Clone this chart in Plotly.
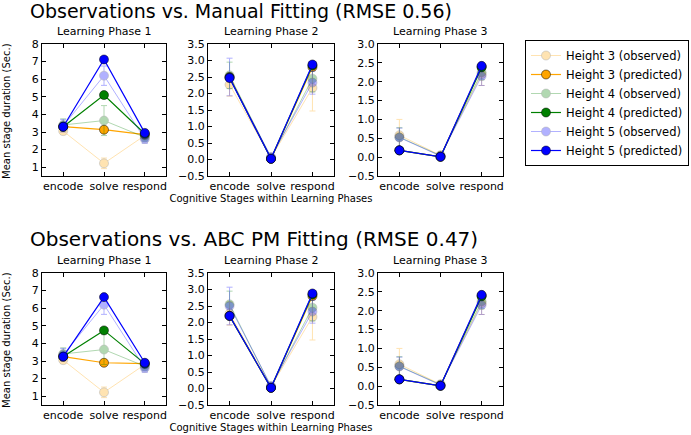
import plotly.graph_objects as go

stages = ["encode", "solve", "respond"]
phases = ["Learning Phase 1", "Learning Phase 2", "Learning Phase 3"]
heights = ["Height 3", "Height 4", "Height 5"]
colors = ["#FFA500", "#008000", "#0000FF"]

# observed means [height][phase][stage]
obs = [
    [[3.05, 1.22, 2.80], [2.27, 0.05, 2.17], [0.58, 0.05, 2.20]],
    [[3.40, 3.65, 2.70], [2.55, 0.05, 2.45], [0.53, 0.04, 2.25]],
    [[3.35, 6.20, 2.60], [2.50, 0.08, 2.33], [0.52, 0.03, 2.15]],
]
obs_err = [
    [[0.20, 0.30, 0.20], [0.35, 0.05, 0.70], [0.42, 0.05, 0.30]],
    [[0.35, 0.85, 0.25], [0.40, 0.05, 0.40], [0.25, 0.05, 0.20]],
    [[0.35, 0.55, 0.25], [0.57, 0.05, 0.35], [0.25, 0.05, 0.25]],
]
manual_pred = [
    [[3.30, 3.13, 2.85], [2.50, 0.02, 2.80], [0.18, 0.01, 2.40]],
    [[3.30, 5.10, 2.90], [2.48, 0.02, 2.85], [0.18, 0.01, 2.38]],
    [[3.30, 7.12, 2.95], [2.47, 0.02, 2.88], [0.18, 0.01, 2.42]],
]
abc_pred = [
    [[3.25, 2.90, 2.85], [2.20, 0.02, 2.80], [0.18, 0.01, 2.40]],
    [[3.25, 4.74, 2.85], [2.20, 0.02, 2.85], [0.18, 0.01, 2.38]],
    [[3.25, 6.63, 2.90], [2.20, 0.02, 2.88], [0.18, 0.01, 2.42]],
]
row_titles = ["Observations vs. Manual Fitting (RMSE 0.56)",
              "Observations vs. ABC PM Fitting (RMSE 0.47)"]
y_title = "Mean stage duration (Sec.)"
x_title = "Cognitive Stages within Learning Phases"
y_ranges = [[0.5, 8], [-0.5, 3.5], [-0.5, 3.0]]
y_dtick = [1, 0.5, 0.5]

W, H = 691, 435
FONT = "DejaVu Sans"
xpix = [(42, 166), (208, 334), (378, 503)]
ypix = [(44, 176), (273, 405)]


def px(x):
    return x / W


def py(y):
    return 1 - y / H


fig = go.Figure()
layout = {}

for r, preds in enumerate([manual_pred, abc_pred]):
    for p in range(3):
        idx = r * 3 + p + 1
        xa = "x" if idx == 1 else f"x{idx}"
        ya = "y" if idx == 1 else f"y{idx}"
        for h in range(3):
            fig.add_trace(go.Scatter(
                x=stages, y=obs[h][p], xaxis=xa, yaxis=ya,
                mode="lines+markers", opacity=0.3,
                line=dict(color=colors[h], width=1),
                marker=dict(color=colors[h], size=9, line=dict(color="black", width=0.5)),
                error_y=dict(type="data", array=obs_err[h][p], color=colors[h],
                             thickness=1, width=3),
                name=f"{heights[h]} (observed)", legendgroup=f"o{h}",
                showlegend=(idx == 1)))
            fig.add_trace(go.Scatter(
                x=stages, y=preds[h][p], xaxis=xa, yaxis=ya,
                mode="lines+markers",
                line=dict(color=colors[h], width=1.2),
                marker=dict(color=colors[h], size=9, line=dict(color="black", width=0.5)),
                name=f"{heights[h]} (predicted)", legendgroup=f"p{h}",
                showlegend=(idx == 1)))
        x0, x1 = xpix[p]
        y0, y1 = ypix[r]
        axcommon = dict(showline=True, linecolor="black", linewidth=1, mirror="ticks",
                        ticks="inside", ticklen=4, tickcolor="black", showgrid=False,
                        zeroline=False, automargin=False,
                        tickfont=dict(family=FONT, size=11, color="black"))
        layout["xaxis" if idx == 1 else f"xaxis{idx}"] = dict(
            domain=[px(x0), px(x1)], anchor=ya, type="category",
            categoryorder="array", categoryarray=stages, range=[-0.52, 2.52],
            title=dict(text=x_title if p == 1 else "",
                       font=dict(family=FONT, size=10, color="black"), standoff=2),
            **axcommon)
        layout["yaxis" if idx == 1 else f"yaxis{idx}"] = dict(
            domain=[py(y1), py(y0)], anchor=xa, range=y_ranges[p],
            dtick=y_dtick[p], tick0=0, tickformat=".0f" if p == 0 else ".1f",
            **axcommon)

annotations = []
title_sizes = [19, 20]
for r in range(2):
    annotations.append(dict(text=row_titles[r], x=px(28), y=py(11 + r * 228),
                            xref="paper", yref="paper", xanchor="left", yanchor="middle",
                            showarrow=False,
                            font=dict(family=FONT, size=title_sizes[r], color="black")))
    annotations.append(dict(text=y_title, x=px(6), y=py((ypix[r][0] + ypix[r][1]) / 2 + 1),
                            xref="paper", yref="paper", xanchor="center", yanchor="middle",
                            textangle=-90, showarrow=False,
                            font=dict(family=FONT, size=10, color="black")))
    for p in range(3):
        x0, x1 = xpix[p]
        annotations.append(dict(text=phases[p], x=px((x0 + x1) / 2),
                                y=py(ypix[r][0] - 4),
                                xref="paper", yref="paper", xanchor="center", yanchor="bottom",
                                showarrow=False, font=dict(family=FONT, size=11, color="black")))

fig.update_layout(
    width=W, height=H, margin=dict(l=0, r=0, t=0, b=0, autoexpand=False),
    paper_bgcolor="white", plot_bgcolor="white",
    annotations=annotations,
    legend=dict(x=px(525), y=py(40), xanchor="left", yanchor="top",
                bordercolor="black", borderwidth=1, bgcolor="white",
                font=dict(family=FONT, size=11.5, color="black"),
                tracegroupgap=0, itemwidth=30),
    **layout)

fig.write_html("out.html", config={"displayModeBar": False},
               post_script="document.body.style.margin='0px';")
